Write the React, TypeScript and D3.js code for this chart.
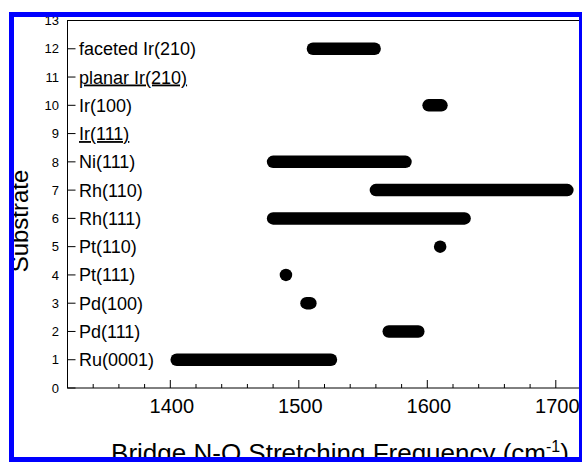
import React, { useEffect, useRef } from "react";
import * as d3 from "d3";

// substrates from bottom (1) to top (12)
const substrates = [
  "Ru(0001)",
  "Pd(111)",
  "Pd(100)",
  "Pt(111)",
  "Pt(110)",
  "Rh(111)",
  "Rh(110)",
  "Ni(111)",
  "Ir(111)",
  "Ir(100)",
  "planar Ir(210)",
  "faceted Ir(210)",
];
// underlined labels (no bridge NO observed)
const underlined = ["Ir(111)", "planar Ir(210)"];
// frequency range of bridge N-O stretch, cm-1 (null = none)
const lowFreq = [1405, 1570, 1506, 1490, 1610, 1480, 1560, 1480, null, 1601, null, 1511];
const highFreq = [1525, 1593, 1509, 1490, 1610, 1629, 1709, 1583, null, 1611, null, 1559];

const xMajorTicks = [1400, 1500, 1600, 1700];
const yTicks = d3.range(0, 14);

const W = 582;
const H = 462;
const FONT = "'Liberation Sans', Arial, sans-serif";

export default function App() {
  const svgRef = useRef<SVGSVGElement>(null);

  useEffect(() => {
    const svg = d3.select(svgRef.current);
    svg.selectAll("*").remove();

    const left = 67.5;
    const top = 20.5;
    const bottom = 388;

    const x = d3.scaleLinear().domain([1320, 1720]).range([left, 581.5]);
    const y = d3.scaleLinear().domain([0, 13]).range([bottom, top]);

    // clip everything to the inside of the blue frame
    svg
      .append("defs")
      .append("clipPath")
      .attr("id", "inner")
      .append("rect")
      .attr("x", 14)
      .attr("y", 17)
      .attr("width", 565)
      .attr("height", 440);

    const g = svg.append("g").attr("clip-path", "url(#inner)");

    g.append("rect")
      .attr("x", 0)
      .attr("y", 0)
      .attr("width", W)
      .attr("height", H)
      .attr("fill", "#fff");

    // plot frame
    g.append("rect")
      .attr("x", left)
      .attr("y", top)
      .attr("width", x(1720) - left)
      .attr("height", bottom - top)
      .attr("fill", "none")
      .attr("stroke", "#000")
      .attr("stroke-width", 1);

    // x ticks, inward
    const minor = d3.range(1340, 1720, 20).filter((v) => !xMajorTicks.includes(v));
    g.selectAll("line.xminor")
      .data(minor)
      .enter()
      .append("line")
      .attr("x1", (d) => x(d))
      .attr("x2", (d) => x(d))
      .attr("y1", bottom)
      .attr("y2", bottom - 4)
      .attr("stroke", "#000");
    g.selectAll("line.xmajor")
      .data(xMajorTicks)
      .enter()
      .append("line")
      .attr("x1", (d) => x(d))
      .attr("x2", (d) => x(d))
      .attr("y1", bottom)
      .attr("y2", bottom - 8)
      .attr("stroke", "#000");
    g.selectAll("text.xlab")
      .data(xMajorTicks)
      .enter()
      .append("text")
      .attr("x", (d) => x(d) + 1.5)
      .attr("y", 412.5)
      .attr("text-anchor", "middle")
      .style("font-family", FONT)
      .style("font-size", "20px")
      .text((d) => d);

    // y ticks, inward
    g.selectAll("line.ytick")
      .data(yTicks)
      .enter()
      .append("line")
      .attr("x1", left)
      .attr("x2", left + 8)
      .attr("y1", (d) => y(d))
      .attr("y2", (d) => y(d))
      .attr("stroke", "#000");
    g.selectAll("text.ylab")
      .data(yTicks)
      .enter()
      .append("text")
      .attr("x", 59)
      .attr("y", (d) => y(d))
      .attr("dy", "0.36em")
      .attr("text-anchor", "end")
      .style("font-family", FONT)
      .style("font-size", "13px")
      .text((d) => d);

    // substrate labels
    g.selectAll("text.sub")
      .data(substrates)
      .enter()
      .append("text")
      .attr("x", 79)
      .attr("y", (_, i) => y(i + 1))
      .attr("dy", "0.36em")
      .style("font-family", FONT)
      .style("font-size", "18px")
      .style("text-decoration", (d) => (underlined.includes(d) ? "underline" : "none"))
      .text((d) => d);

    // frequency ranges
    const bars = substrates
      .map((s, i) => ({ s, level: i + 1, lo: lowFreq[i], hi: highFreq[i] }))
      .filter((d) => d.lo !== null && d.hi !== null);

    g.selectAll("line.bar")
      .data(bars)
      .enter()
      .append("line")
      .attr("x1", (d) => x(d.lo as number))
      .attr("x2", (d) => x(d.hi as number) + 0.01)
      .attr("y1", (d) => y(d.level))
      .attr("y2", (d) => y(d.level))
      .attr("stroke", "#000")
      .attr("stroke-width", 12.5)
      .attr("stroke-linecap", "round");

    // axis titles
    g.append("text")
      .attr("x", 340)
      .attr("y", 462)
      .attr("text-anchor", "middle")
      .style("font-family", FONT)
      .style("font-size", "26px")
      .call((t) => {
        t.append("tspan").text("Bridge N-O Stretching Frequency (cm");
        t.append("tspan").attr("dy", -10).style("font-size", "16px").text("-1");
        t.append("tspan").attr("dy", 10).text(")");
      });

    g.append("text")
      .attr("transform", "translate(28,221) rotate(-90)")
      .attr("text-anchor", "middle")
      .style("font-family", FONT)
      .style("font-size", "24px")
      .text("Substrate");

    // blue frame
    svg
      .append("rect")
      .attr("x", 11.5)
      .attr("y", 14.5)
      .attr("width", 570)
      .attr("height", 445)
      .attr("fill", "none")
      .attr("stroke", "#0000ff")
      .attr("stroke-width", 5);
  }, []);

  return (
    <svg
      ref={svgRef}
      width={W}
      height={H}
      style={{ position: "fixed", left: 0, top: 0, background: "#fff" }}
    />
  );
}
